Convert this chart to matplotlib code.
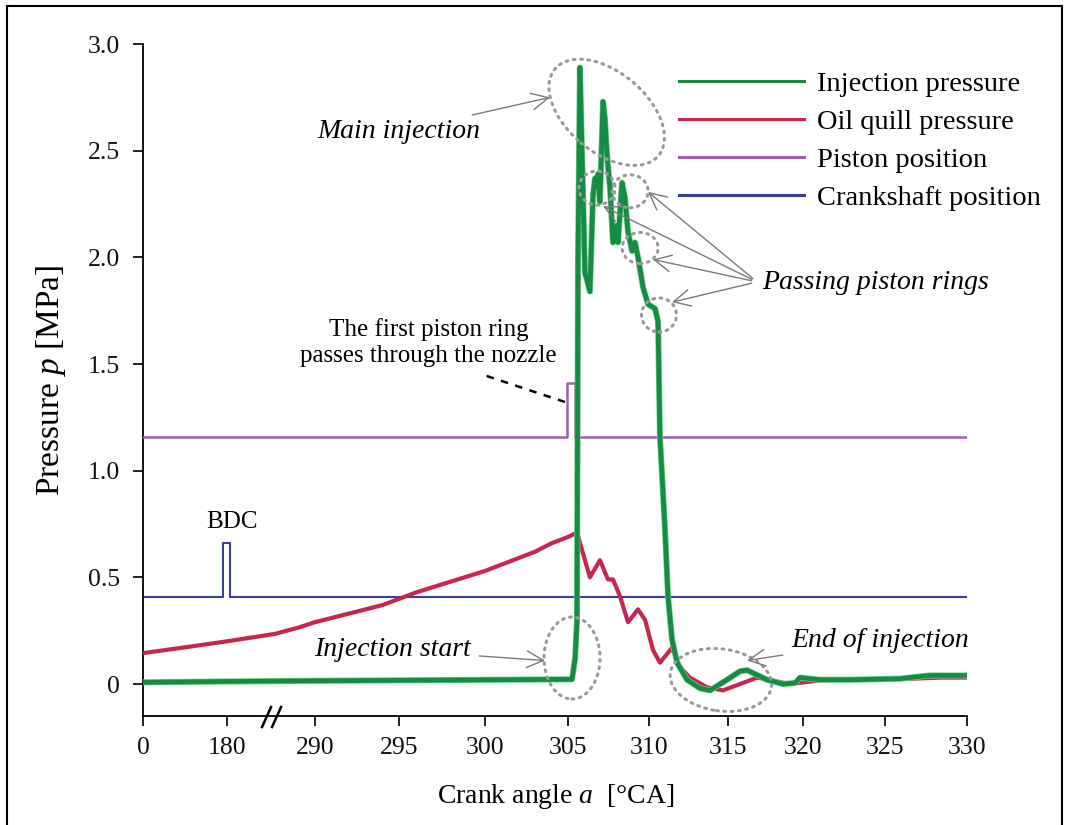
import numpy as np
import matplotlib
matplotlib.use("Agg")
import matplotlib.pyplot as plt
import matplotlib.patheffects as pe
from matplotlib.patches import Ellipse, Rectangle
from matplotlib.transforms import ScaledTranslation

plt.rcParams["font.family"] = ["Liberation Serif", "DejaVu Serif"]
plt.rcParams["mathtext.fontset"] = "custom"
plt.rcParams["mathtext.rm"] = "Liberation Serif"
plt.rcParams["mathtext.it"] = "Liberation Serif:italic"

# x axis is broken: tick spacing is not proportional to angle
TICK_ANGLES = [0, 180, 290, 295, 300, 305, 310, 315, 320, 325, 330]

INJ_ANGLE = [0, 180, 290, 305.23, 305.42, 305.54, 305.60, 305.72, 305.91, 306.03,
             306.34, 306.53, 306.65, 306.78, 306.84, 306.96, 307.15, 307.27, 307.40,
             307.58, 307.77, 308.02, 308.08, 308.33, 308.51, 308.70, 308.95, 309.13,
             309.32, 309.63, 309.94, 310.38, 310.57, 310.69, 311.01, 311.20, 311.45,
             311.77, 312.40, 313.22, 313.85, 314.92, 315.79, 316.26, 317.60, 318.68,
             319.5, 319.82, 321.05, 322.9, 325.9, 327.7, 330]
INJ_VALUE = [0.008, 0.012, 0.015, 0.022, 0.12, 0.30, 1.98, 2.89, 2.30, 1.93,
             1.84, 2.29, 2.37, 2.33, 2.39, 2.26, 2.73, 2.65, 2.48,
             2.33, 2.07, 2.15, 2.07, 2.35, 2.28, 2.12, 2.03, 2.07,
             2.00, 1.86, 1.78, 1.76, 1.70, 1.16, 0.72, 0.41, 0.21,
             0.10, 0.02, -0.02, -0.03, 0.02, 0.06, 0.065, 0.02, 0.0,
             0.005, 0.03, 0.02, 0.02, 0.025, 0.04, 0.04]

OIL_ANGLE = [0, 100, 180, 240, 270, 290, 292, 294, 296, 298, 300, 302, 303, 304, 305,
             305.54, 306.34, 306.96, 307.46, 307.77, 308.21, 308.70, 309.32, 309.76,
             310.25, 310.69, 311.45, 311.95, 312.58, 313.65, 314.66, 315.79, 316.93,
             319.15, 321.37, 324.8, 328.4, 330]
OIL_VALUE = [0.145, 0.175, 0.20, 0.235, 0.265, 0.29, 0.33, 0.37, 0.43, 0.48, 0.53, 0.59,
             0.62, 0.66, 0.69, 0.71, 0.50, 0.58, 0.49, 0.49, 0.41, 0.29, 0.35, 0.30,
             0.16, 0.10, 0.17, 0.08, 0.03, -0.015, -0.03, 0.0, 0.03,
             0.0, 0.02, 0.02, 0.03, 0.03]

PISTON_ANGLE = [0, 304.94, 304.94, 305.42, 305.42, 330]
PISTON_VALUE = [1.16, 1.16, 1.41, 1.41, 1.16, 1.16]

CRANK_ANGLE = [0, 173, 173, 184, 184, 330]
CRANK_VALUE = [0.41, 0.41, 0.66, 0.66, 0.41, 0.41]

# where each tick sits along the axis (fraction of axis width)
TICK_FRAC = np.array([0, 83.4, 171.7, 256, 341.7, 425, 505.7, 585, 659.4, 741.7, 824]) / 824

GREEN = "#178a44"
GREEN_EDGE = "#6fcf8c"
RED = "#c8264e"
PURPLE = "#a060b0"
BLUE = "#3a3f9a"
RING_GREY = "#9a9a9a"
ARROW_GREY = "#7a7a7a"


def forward(x):
    return np.interp(x, TICK_ANGLES, TICK_FRAC)


def inverse(p):
    return np.interp(p, TICK_FRAC, TICK_ANGLES)


fig = plt.figure(figsize=(10.69, 8.25), dpi=100, facecolor="white")
ax = fig.add_axes((143.3 / 1069, 0.1321, 824 / 1069, 0.8145))
ax.set_xscale("function", functions=(forward, inverse))

ax.plot(CRANK_ANGLE, CRANK_VALUE, color=BLUE, lw=1.5, label="Crankshaft position", zorder=2)
ax.plot(PISTON_ANGLE, PISTON_VALUE, color=PURPLE, lw=1.8, label="Piston position", zorder=3)
ax.plot(OIL_ANGLE, OIL_VALUE, color=RED, lw=3.0, label="Oil quill pressure", zorder=4)
inj_line, = ax.plot(INJ_ANGLE, INJ_VALUE, color=GREEN, lw=3.4, label="Injection pressure",
                    zorder=5, solid_joinstyle="round")
inj_line.set_path_effects([pe.Stroke(linewidth=4.4, foreground=GREEN_EDGE), pe.Normal()])

ax.set_xlim(0, 330)
ax.set_ylim(-0.15, 3.0)
ax.set_xticks(TICK_ANGLES, [str(t) for t in TICK_ANGLES])
ax.minorticks_off()
ax.set_yticks([0, 0.5, 1.0, 1.5, 2.0, 2.5, 3.0], ["0", "0.5", "1.0", "1.5", "2.0", "2.5", "3.0"])
ax.tick_params(direction="out", length=7, width=1.3, labelsize=18.5, colors="#111111")
ax.tick_params(axis="x", pad=8)
ax.tick_params(axis="y", pad=10)
for side in ("top", "right"):
    ax.spines[side].set_visible(False)
for side in ("left", "bottom"):
    ax.spines[side].set_linewidth(1.3)

ax.set_xlabel(r"Crank angle $a$  [°CA]", fontsize=20, labelpad=17)
ax.set_ylabel(r"Pressure $p$ [MPa]", fontsize=24, labelpad=14)

handles, labels = ax.get_legend_handles_labels()
order = [3, 2, 1, 0]
leg = ax.legend([handles[i] for i in order], [labels[i] for i in order],
                loc="upper left", bbox_to_anchor=(0.650, 0.960), frameon=False,
                fontsize=20.5, handlelength=4.4, handletextpad=0.45,
                labelspacing=0.42, borderpad=0, borderaxespad=0)
for line in leg.get_lines():
    line.set_linewidth(2.2)
    line.set_path_effects([])


def ring(angle, value, w_px, h_px, tilt=0.0):
    trans = fig.dpi_scale_trans + ScaledTranslation(angle, value, ax.transData)
    ax.add_patch(Ellipse((0, 0), w_px / 100, h_px / 100, angle=tilt, transform=trans,
                         fill=False, ec=RING_GREY, lw=2.2, ls=(0, (0.6, 1.8)),
                         capstyle="round", zorder=6, clip_on=False))


arrow = dict(arrowstyle="->,head_length=0.6,head_width=0.3", color=ARROW_GREY,
             lw=1.0, shrinkA=4, shrinkB=0, mutation_scale=20)

ring(307.38, 2.68, 135, 80, -40)
ring(306.78, 2.325, 36, 34)
ring(308.83, 2.31, 36, 33)
ring(309.45, 2.044, 36, 31)
ring(310.63, 1.73, 35, 34)
ring(305.23, 0.122, 56, 82)
ring(314.53, 0.019, 102, 62, -8)

ax.annotate("Main injection", xy=(303.9, 2.75), xytext=(295.0, 2.59), ha="center",
            va="center", fontsize=20, style="italic", arrowprops=arrow, zorder=7)
ax.annotate("Injection start", xy=(303.6, 0.11), xytext=(294.6, 0.16), ha="center",
            va="center", fontsize=20, style="italic", arrowprops=arrow, zorder=7)
ax.annotate("End of injection", xy=(316.26, 0.11), xytext=(324.7, 0.206), ha="center",
            va="center", fontsize=20, style="italic", arrowprops=arrow, zorder=7)
ax.text(324.45, 1.88, "Passing piston rings", ha="center", va="center", fontsize=20,
        style="italic", zorder=7)
for target in [(309.94, 2.307), (307.15, 2.24), (310.25, 1.99), (311.45, 1.79)]:
    ax.annotate("", xy=target, xytext=(316.93, 1.885), arrowprops=arrow, zorder=7)

ax.text(296.7, 1.60, "The first piston ring\npasses through the nozzle", ha="center",
        va="center", fontsize=18, linespacing=1.25)
ax.plot([300.1, 304.8], [1.444, 1.322], color="black", lw=1.8, ls=(0, (3, 3)), zorder=6)
ax.text(186.6, 0.76, "BDC", ha="center", va="center", fontsize=18)

# axis break marks
brk = fig.dpi_scale_trans + ScaledTranslation(236.5, -0.15, ax.transData)
for x0 in (-0.10, 0.0):
    ax.plot([x0, x0 + 0.09], [-0.11, 0.09], color="black", lw=1.8, transform=brk,
            clip_on=False, zorder=8)

fig.patches.append(Rectangle((7 / 1069, -0.02), (1062 - 7) / 1069, 1 - 6 / 825 + 0.02,
                             transform=fig.transFigure, fill=False, ec="black", lw=1.5))

fig.savefig("out.png", dpi=100, facecolor="white")
